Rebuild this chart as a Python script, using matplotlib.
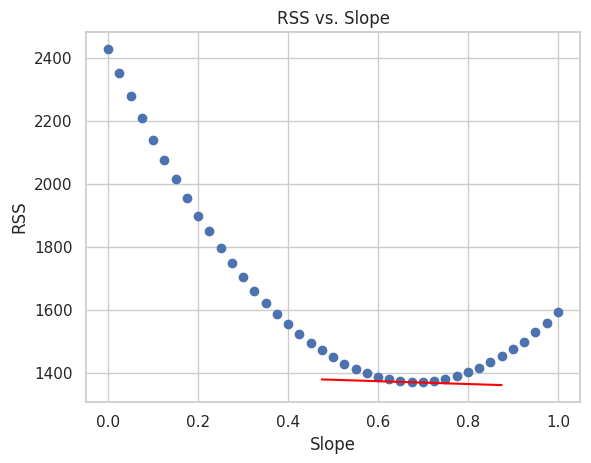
import matplotlib
matplotlib.use("Agg")
import matplotlib.pyplot as plt
import numpy as np
import seaborn as sns

sns.set_theme(style="whitegrid")

# slope values and RSS
slopes = [i * 0.025 for i in range(41)]
rss = [2428, 2352, 2280, 2210, 2140, 2076, 2017, 1956, 1900, 1850,
       1798, 1750, 1706, 1662, 1624, 1589, 1555, 1523, 1495, 1473,
       1451, 1428, 1413, 1400, 1387, 1381, 1375, 1372, 1372, 1375,
       1381, 1390, 1403, 1415, 1434, 1453, 1475, 1500, 1529, 1560, 1595]

# red line segment
line_x = [0.475, 0.875]
line_y = [1380, 1362]

fig, ax = plt.subplots(figsize=(5.91, 4.63), dpi=100)
fig.subplots_adjust(left=0.145, right=0.982, top=0.93, bottom=0.132)
ax.scatter(slopes, rss)
ax.plot(line_x, line_y, color="red")
ax.set_xlabel("Slope")
ax.set_ylabel("RSS")
ax.set_title("RSS vs. Slope")
fig.savefig("out.png")
